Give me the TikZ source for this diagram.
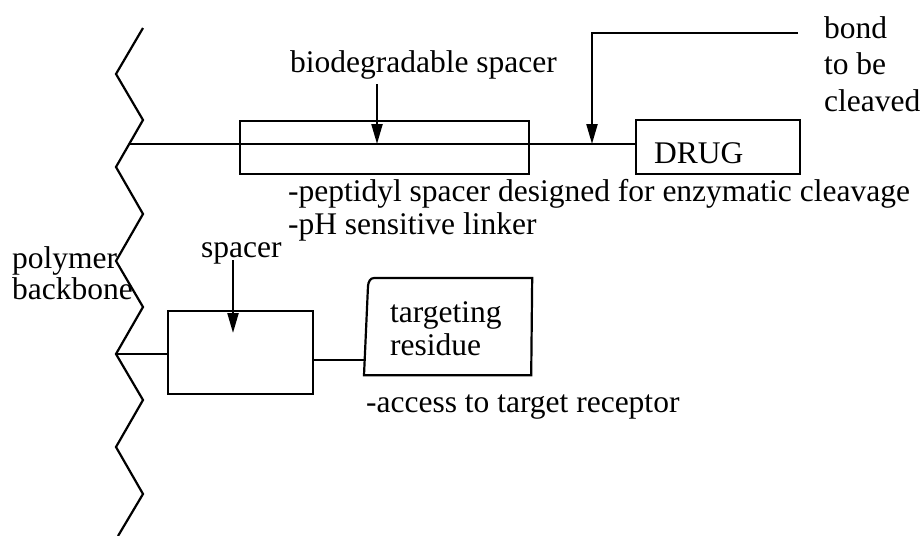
\documentclass[tikz,border=0pt]{standalone}
\usepackage{fontspec}
\setmainfont{Liberation Serif}
\usetikzlibrary{positioning, arrows.meta}

\begin{document}
\begin{tikzpicture}[x=1pt, y=-1pt, line width=2.2pt,
  every node/.style={font=\fontsize{31.5}{33}\selectfont, inner sep=0pt},
  box/.style={draw, rectangle, anchor=north west},
  note/.style={anchor=north west, align=left},
  pointer/.style={-{Triangle[length=20pt,width=11pt]}}]
 \useasboundingbox (0,0) rectangle (922,536);
 \draw (143,28) -- (116,74) -- (143,120) -- (116,167) -- (143,214) -- (116,261)
   -- (143,307) -- (116,354) -- (143,400) -- (116,447) -- (143,494) -- (118,536);
 \coordinate (top) at (129,144);
 \coordinate (low) at (116,354);
 \coordinate (cut) at (592,144);
 \coordinate (bondend) at (798,33);
 \coordinate (biotail) at (377,84);
 \coordinate (sptail) at (233,260);
 \node[box, minimum width=289pt, minimum height=53pt] (bio) at (239,120) {};
 \node[box, minimum width=164pt, minimum height=54pt] (drug) at (635,119) {};
 \node[box, minimum width=145pt, minimum height=83pt] (spbox) at (167,310) {};
 \node[anchor=north west, minimum width=166pt, minimum height=95pt] (target) at (364,278) {};
 \draw (target.south west) -- ([xshift=4pt,yshift=-8pt]target.north west)
   to[out=85,in=180] ([xshift=10pt]target.north west) -- (target.north east)
   -- ([xshift=-1pt]target.south east) -- cycle;
 \node[anchor=base west] (drugtext) at (653,163) {DRUG};
 \node[anchor=base west] (biolbl) at (289,72) {biodegradable spacer};
 \node[note, font=\fontsize{31.5}{36.5}\selectfont] (bond) at (823,15.5) {bond\\to be\\cleaved};
 \node[note] (drugnotes) at (287,178.5) {-peptidyl spacer designed for enzymatic cleavage\\-pH sensitive linker};
 \node[note, font=\fontsize{31.5}{31}\selectfont] (poly) at (11,245.5) {polymer\\backbone};
 \node[anchor=base west] (splbl) at (200,257) {spacer};
 \node[note] (tgtext) at (389,300.5) {targeting\\residue};
 \node[anchor=base west] (access) at (365,412) {-access to target receptor};
 \draw (top) -- (top -| drug.west);
 \draw[pointer] (biotail) -- (biotail |- top);
 \draw[pointer] (bondend) -| (cut);
 \draw (low) -- (low -| spbox.west);
 \draw[pointer] (sptail) -- ([yshift=-23pt]sptail |- spbox.north);
 \draw ([yshift=-7.5pt]spbox.east) -- ([yshift=-7.5pt]spbox.east -| target.west);
\end{tikzpicture}
\end{document}
